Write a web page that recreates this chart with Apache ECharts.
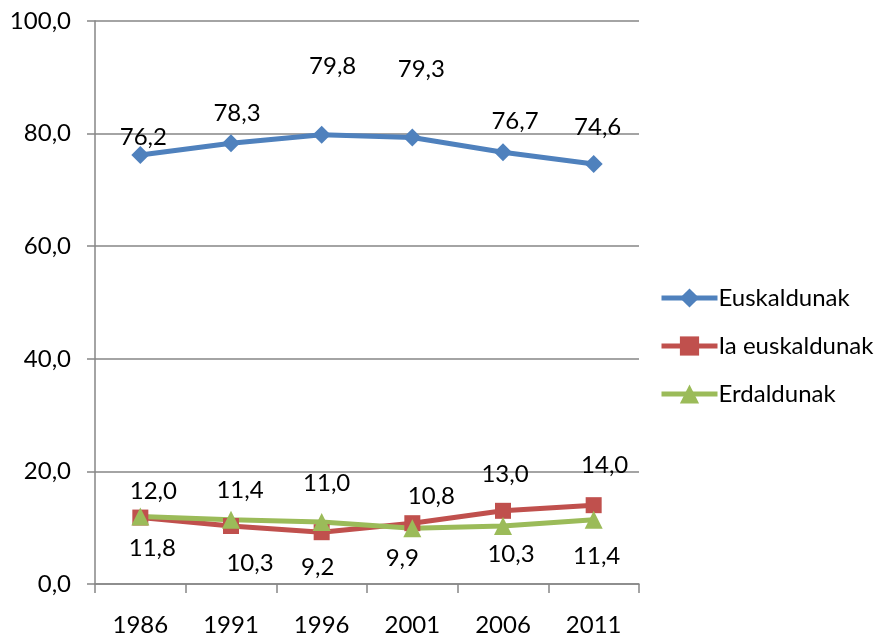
<!DOCTYPE html>
<html>
<head>
<meta charset="utf-8">
<script src="https://cdn.jsdelivr.net/npm/echarts@6/dist/echarts.min.js"></script>
<style>
    * { margin: 0; padding: 0; }
    html, body { background: #fff; }
</style>
</head>
<body>
<div id="main" style="width: 877px;height: 637px;"></div>
<script>
    // data
    var years = ['1986', '1991', '1996', '2001', '2006', '2011'];
    var euskaldunak = [76.2, 78.3, 79.8, 79.3, 76.7, 74.6];
    var iaEuskaldunak = [11.8, 10.3, 9.2, 10.8, 13.0, 14.0];
    var erdaldunak = [12.0, 11.4, 11.0, 9.9, 10.3, 11.4];
    var seriesNames = ['Euskaldunak', 'Ia euskaldunak', 'Erdaldunak'];

    // label placement (px shift from the marker), as in the original
    var blueShift = [[3, -18], [6, -30], [11, -68], [9, -68], [12, -31], [4, -37]];
    var redShift = [[12, 31], [19, 37], [-4, 35], [19, -27], [2, -37], [11, -40]];
    var greenShift = [[13, -25], [9, -30], [5, -39], [-10, 30], [8, 28], [3, 36]];

    var font = 'Lato, "Noto Sans", sans-serif';
    var fontSize = 24;

    function fmt(v) {
        return Number(v).toFixed(1).replace('.', ',');
    }

    function withLabels(values, shifts) {
        return values.map(function (v, i) {
            return {
                value: v,
                label: {position: 'inside', offset: shifts[i]}
            };
        });
    }

    function lineSeries(name, values, shifts, color, symbol, size) {
        return {
            name: name,
            type: 'line',
            data: withLabels(values, shifts),
            symbol: symbol,
            symbolSize: size,
            lineStyle: {color: color, width: 5},
            itemStyle: {color: color},
            label: {
                show: true,
                color: '#000',
                fontSize: fontSize,
                fontFamily: font,
                formatter: function (p) { return fmt(p.value); }
            },
            emphasis: {disabled: true},
            animation: false
        };
    }

    var chart = echarts.init(document.getElementById('main'));
    chart.setOption({
        backgroundColor: '#fff',
        grid: {left: 95, right: 238, top: 21, bottom: 53, containLabel: false},
        legend: {
            orient: 'vertical',
            left: 654,
            top: 281,
            itemWidth: 56,
            itemHeight: 24,
            itemGap: 24,
            data: seriesNames,
            lineStyle: {width: 5},
            textStyle: {color: '#000', fontSize: fontSize, fontFamily: font, padding: [0, 0, 0, -4]}
        },
        xAxis: {
            type: 'category',
            data: years,
            boundaryGap: true,
            axisLine: {lineStyle: {color: '#868686', width: 1.5}},
            axisTick: {show: true, length: 9, lineStyle: {color: '#868686', width: 1.5}},
            axisLabel: {color: '#000', fontSize: fontSize, fontFamily: font, margin: 29}
        },
        yAxis: {
            type: 'value',
            min: 0,
            max: 100,
            interval: 20,
            axisLine: {show: true, lineStyle: {color: '#868686', width: 1.5}},
            axisTick: {show: true, length: 8, lineStyle: {color: '#868686', width: 1.5}},
            splitLine: {lineStyle: {color: '#868686', width: 1.5}},
            axisLabel: {
                color: '#000',
                fontSize: fontSize,
                fontFamily: font,
                margin: 24,
                formatter: function (v) { return fmt(v); }
            }
        },
        series: [
            lineSeries(seriesNames[0], euskaldunak, blueShift, '#4F81BD', 'diamond', 18),
            lineSeries(seriesNames[1], iaEuskaldunak, redShift, '#C0504D', 'rect', 16),
            lineSeries(seriesNames[2], erdaldunak, greenShift, '#9BBB59', 'triangle', 18)
        ]
    });
</script>
</body>
</html>
